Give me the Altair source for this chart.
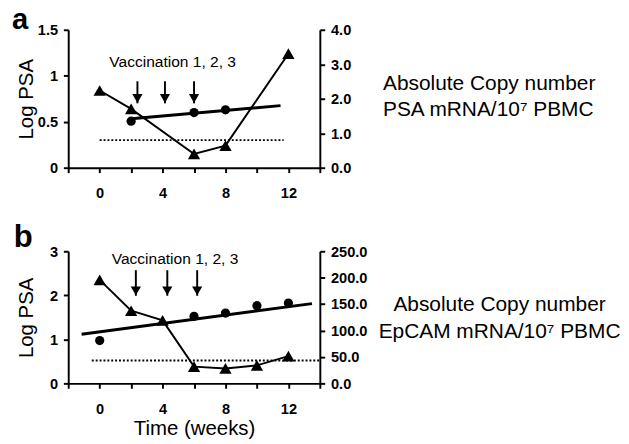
import altair as alt
import pandas as pd

FONT = "Liberation Sans"

# ---------------- Panel a ----------------
a_tri_weeks = [0, 2, 6, 8, 12]
a_log_psa = [0.84, 0.64, 0.15, 0.24, 1.24]
a_circ_weeks = [2, 6, 8]
a_copies = [1.35, 1.60, 1.68]
a_trend_weeks = [2, 11.5]
a_trend_copies = [1.42, 1.80]
a_cutoff_weeks = [0, 11.7]
a_cutoff = 0.30
a_vacc_weeks = [2.4, 4.15, 6.0]
a_vacc_top, a_vacc_tip = 0.94, 0.70
a_vacc_label_pos = (4.64, 1.09)
a_side = "Absolute Copy number\nPSA mRNA/10\u2077 PBMC"

# ---------------- Panel b ----------------
b_tri_weeks = [0, 2, 4, 6, 8, 10, 12]
b_log_psa = [2.35, 1.65, 1.43, 0.38, 0.34, 0.41, 0.62]
b_circ_weeks = [0, 6, 8, 10, 12]
b_copies = [81, 127, 133, 147, 152]
b_trend_weeks = [-1.15, 13.5]
b_trend_copies = [93, 151]
b_cutoff_weeks = [-0.5, 14]
b_cutoff = 0.52
b_vacc_weeks = [2.3, 4.3, 6.2]
b_vacc_top, b_vacc_tip = 2.57, 1.99
b_vacc_label_pos = (4.79, 2.71)
b_side = "Absolute Copy number\nEpCAM mRNA/10\u2077 PBMC"

VACC_TEXT = "Vaccination 1, 2, 3"
X_TICKS = [-2, 0, 2, 4, 6, 8, 10, 12, 14]


def panel(letter, tri_w, tri_v, circ_w, circ_v, trend_w, trend_v, cut_w, cut_v,
          vacc_w, vacc_top, vacc_tip, vacc_pos, ldomain, lvalues, lformat,
          rdomain, rvalues, xtitle, height, side_text, side_x, side_y,
          side_align, side_lh, letter_x, letter_y, letter_size):
    xaxis_kwargs = dict(
        values=X_TICKS,
        labelExpr="(datum.value >= 0 && datum.value <= 12 && datum.value % 4 == 0) ? datum.label : ''",
        labelPadding=14, titlePadding=2,
    )
    X = alt.X("week:Q", scale=alt.Scale(domain=[-2, 14], nice=False, zero=False),
              axis=alt.Axis(**xaxis_kwargs), title=xtitle)
    YL = alt.Y("psa:Q", scale=alt.Scale(domain=ldomain, nice=False),
               axis=alt.Axis(values=lvalues, format=lformat, labelPadding=6,
                             titleX=-33),
               title="Log PSA")
    YR = alt.Y("copies:Q", scale=alt.Scale(domain=rdomain, nice=False),
               axis=alt.Axis(orient="right", values=rvalues, format=".1f",
                             labelPadding=6),
               title=None)

    tri = pd.DataFrame({"week": tri_w, "psa": tri_v})
    line = alt.Chart(tri).mark_line(color="black", strokeWidth=2).encode(x=X, y=YL)
    pts = alt.Chart(tri).mark_point(shape="triangle-up", filled=True, size=160,
                                    color="black", opacity=1).encode(x=X, y=YL)
    cut = alt.Chart(pd.DataFrame({"week": [cut_w[0]], "week2": [cut_w[1]], "psa": [cut_v]})
                    ).mark_rule(strokeDash=[2, 2], strokeWidth=2, color="black"
                                ).encode(x=X, x2="week2:Q", y=YL)
    shaft = alt.Chart(pd.DataFrame({"week": vacc_w, "psa": [vacc_top] * len(vacc_w),
                                    "psa2": [vacc_tip] * len(vacc_w)})
                      ).mark_rule(strokeWidth=2, color="black").encode(x=X, y=YL, y2="psa2:Q")
    head = alt.Chart(pd.DataFrame({"week": vacc_w, "psa": [vacc_tip] * len(vacc_w)})
                     ).mark_point(shape="triangle-down", filled=True, size=110,
                                  color="black", opacity=1, yOffset=-5).encode(x=X, y=YL)
    vlabel = alt.Chart(pd.DataFrame({"week": [vacc_pos[0]], "psa": [vacc_pos[1]],
                                     "t": [VACC_TEXT]})
                       ).mark_text(font=FONT, fontSize=16, align="center",
                                   baseline="alphabetic", color="black"
                                   ).encode(x=X, y=YL, text="t:N")
    letter_t = alt.Chart(pd.DataFrame({"t": [letter]})).mark_text(
        font=FONT, fontSize=letter_size, fontWeight="bold", align="left",
        baseline="alphabetic", color="black"
    ).encode(x=alt.value(letter_x), y=alt.value(letter_y), text="t:N")
    side_t = alt.Chart(pd.DataFrame({"t": [side_text]})).mark_text(
        font=FONT, fontSize=21.5, align=side_align, baseline="alphabetic",
        lineBreak="\n", lineHeight=side_lh, color="black"
    ).encode(x=alt.value(side_x), y=alt.value(side_y), text="t:N")

    circ = alt.Chart(pd.DataFrame({"week": circ_w, "copies": circ_v})).mark_circle(
        size=90, color="black", opacity=1).encode(x=X, y=YR)
    trend = alt.Chart(pd.DataFrame({"week": trend_w, "copies": trend_v})).mark_line(
        color="black", strokeWidth=3).encode(x=X, y=YR)

    left = alt.layer(line, pts, cut, shaft, head, vlabel, letter_t, side_t)
    right = alt.layer(circ, trend)
    return alt.layer(left, right).resolve_scale(y="independent").properties(
        width=259, height=height)


pa = panel("a", a_tri_weeks, a_log_psa, a_circ_weeks, a_copies, a_trend_weeks,
           a_trend_copies, a_cutoff_weeks, a_cutoff, a_vacc_weeks, a_vacc_top,
           a_vacc_tip, a_vacc_label_pos, [0, 1.5], [0, 0.5, 1, 1.5], ".1~f",
           [0, 4], [0, 1, 2, 3, 4], None, 142, a_side, 324, 62, "left", 27,
           -58, -1, 30)
pb = panel("b", b_tri_weeks, b_log_psa, b_circ_weeks, b_copies, b_trend_weeks,
           b_trend_copies, b_cutoff_weeks, b_cutoff, b_vacc_weeks, b_vacc_top,
           b_vacc_tip, b_vacc_label_pos, [0, 3], [0, 1, 2, 3], "d",
           [0, 250], [0, 50, 100, 150, 200, 250], "Time (weeks)", 136, b_side,
           444, 61, "center", 28, -56, -4, 32)

chart = alt.vconcat(pa, pb, spacing=22).properties(
    padding={"left": 4, "top": -9, "right": 0, "bottom": 0}
).configure_axis(
    domainWidth=2, domainColor="black", tickWidth=2, tickColor="black",
    tickSize=5, grid=False, labelFont=FONT, labelFontSize=15,
    labelFontWeight="bold", labelColor="black", titleFont=FONT,
    titleFontSize=21, titleFontWeight="normal", titleColor="black",
).configure_view(stroke=None)

chart.save("out.html", embed_options={"renderer": "svg", "actions": False})
